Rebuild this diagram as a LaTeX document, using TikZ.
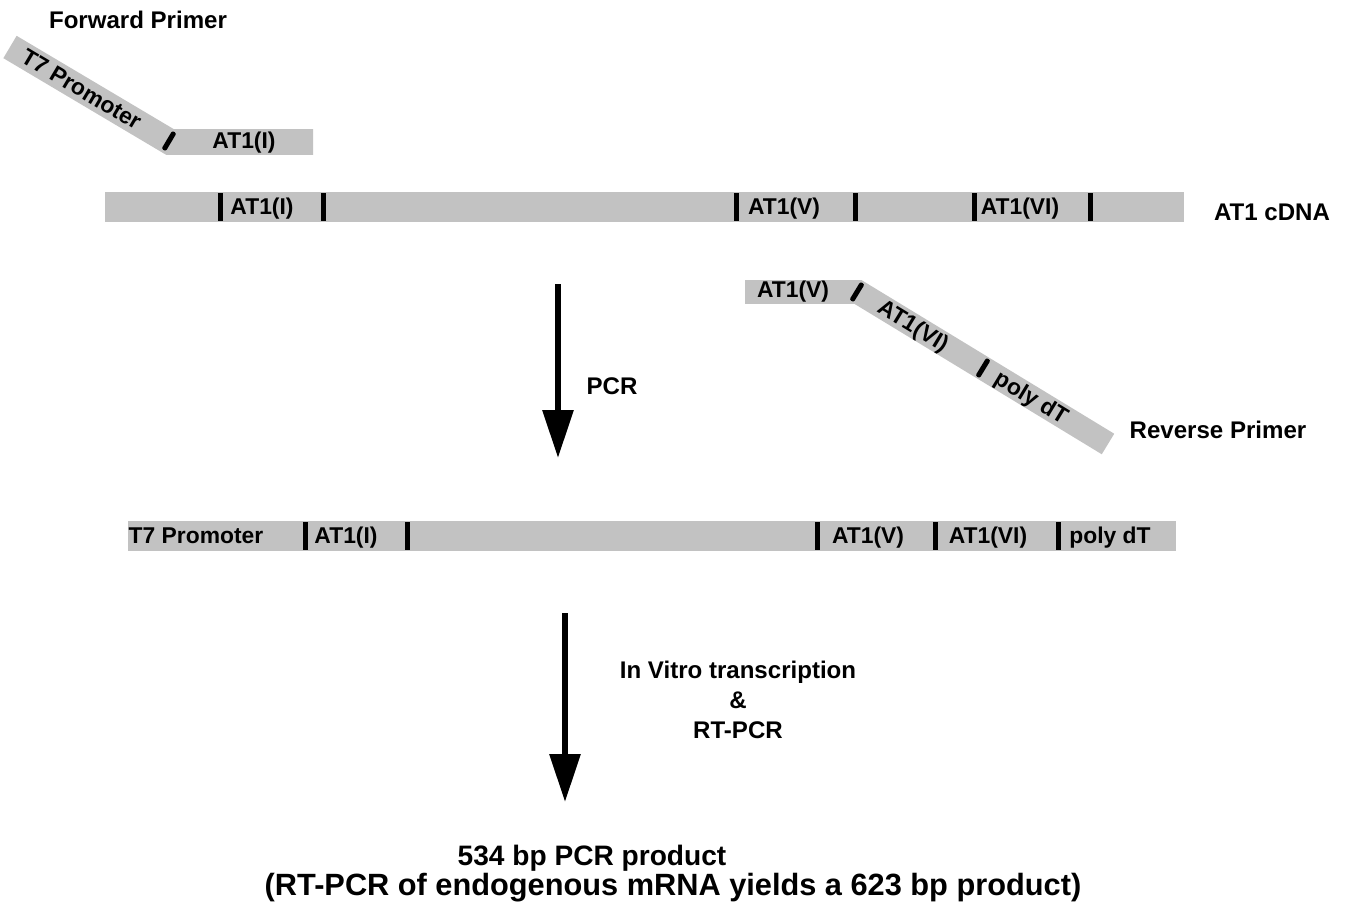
\documentclass[tikz,border=0pt]{standalone}
\usepackage{fontspec}
\setmainfont{Liberation Sans}
\usetikzlibrary{arrows.meta, positioning, calc}
\definecolor{bandc}{RGB}{194,194,194}
\definecolor{inkc}{RGB}{0,0,0}
\tikzset{
  band/.style={rectangle, fill=bandc, draw=none, inner sep=0pt, minimum height=0.6cm},
  primer/.style={draw=bandc, line width=0.5cm, line join=miter},
  cut/.style={rectangle, fill=inkc, inner sep=0pt, minimum width=1mm, minimum height=5.6mm},
  slcut/.style={cut, minimum height=4.2mm, rounded corners=0.4mm},
  seg/.style={font=\fontsize{13}{15}\selectfont\bfseries, text=inkc, inner sep=0pt,
              text height=0.75em, text depth=0.21em},
  ttl/.style={font=\fontsize{13.7}{16}\selectfont\bfseries, text=inkc, inner sep=0pt, align=center},
  big/.style={font=\fontsize{17.5}{20}\selectfont\bfseries, text=inkc, inner sep=0pt},
  steparr/.style={-{Triangle[length=9.6mm, width=6mm]}, line width=0.12cm, draw=inkc},
}
\begin{document}
\begin{tikzpicture}[x=0.02cm, y=-0.02cm]
  \useasboundingbox (0,0) rectangle (1346,909);

  % forward primer
  \node[ttl] (fwdttl) at (138,20) {Forward Primer};
  \draw[primer, line width=0.52cm] (10,47) -- (170,142) -- (313,142);
  \node[slcut, rotate=-30.7] (fwdcut) at (169,141) {};
  \node[seg, rotate=-30.7] (fwdt7) at (80,92) {T7 Promoter};
  \node[seg] (fwdat1) at (244,144) {AT1(I)};

  % template
  \node[band, minimum width=21.58cm] (cdna) at (644.5,207) {};
  \foreach \x in {220,323,736,855,974,1090}
    \node[cut] (cdcut\x) at (\x,207) {};
  \node[seg] (cdI) at (262,210) {AT1(I)};
  \node[seg] (cdV) at (784,210) {AT1(V)};
  \node[seg] (cdVI) at (1020,210) {AT1(VI)};
  \node[ttl] (cdttl) at (1272,212) {AT1 cDNA};

  % reverse primer
  \draw[primer, line width=0.48cm] (745,292) -- (858,292) -- (1108,444);
  \node[slcut, rotate=-31.3] (revcut1) at (857,292) {};
  \node[slcut, rotate=-31.3] (revcut2) at (983,368) {};
  \node[seg] (revV) at (793,293) {AT1(V)};
  \node[seg, rotate=-31.3] (revVI) at (912,328) {AT1(VI)};
  \node[seg, rotate=-31.3] (revdt) at (1030,400) {poly dT};
  \node[ttl] (revttl) at (1218,430) {Reverse Primer};

  % PCR step
  \coordinate (pcrtop) at (558,284);
  \coordinate (pcrtip) at (558,458);
  \draw[steparr] (pcrtop) -- (pcrtip);
  \node[ttl] (pcr) at (612,386) {PCR};

  % product
  \node[band, minimum width=20.96cm] (prod) at (652,536) {};
  \foreach \x in {305,407,817,935,1058}
    \node[cut] (prcut\x) at (\x,536) {};
  \node[seg] (prT7) at (196,539) {T7 Promoter};
  \node[seg] (prI) at (346,539) {AT1(I)};
  \node[seg] (prV) at (868,539) {AT1(V)};
  \node[seg] (prVI) at (988,539) {AT1(VI)};
  \node[seg] (prdt) at (1110,539) {poly dT};

  % transcription step
  \coordinate (rttop) at (565,613);
  \coordinate (rttip) at (565,802);
  \draw[steparr] (rttop) -- (rttip);
  \node[ttl] (ivt) at (738,700) {In Vitro transcription\\[1pt]\&\\[1pt]RT-PCR};

  \node[big, font=\fontsize{16}{19}\selectfont\bfseries] (res1) at (592,858) {534 bp PCR product};
  \node[big] (res2) at (673,888) {(RT-PCR of endogenous mRNA yields a 623 bp product)};

\end{tikzpicture}
\end{document}
